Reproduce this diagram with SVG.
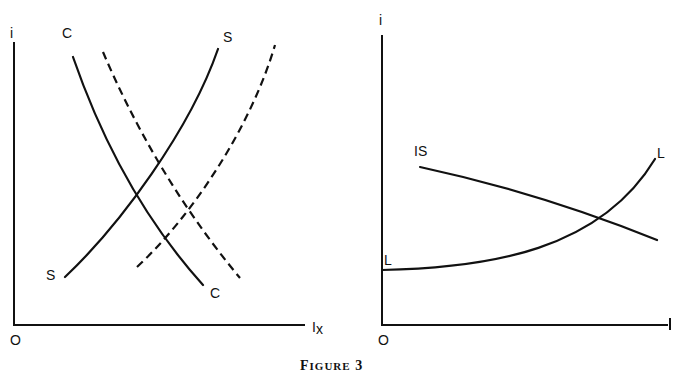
<svg xmlns="http://www.w3.org/2000/svg" width="673" height="380" viewBox="0 0 673 380">
<style>
.ax{fill:none;stroke:#111;stroke-width:2}
.cv{fill:none;stroke:#111;stroke-width:2.2;stroke-linecap:round}
.ds{stroke-dasharray:8,5;stroke-linecap:butt}
.lb{font-family:"Liberation Sans",Arial,sans-serif;font-size:14px;fill:#111}
.cap{font-family:"Liberation Serif","Times New Roman",serif;font-weight:bold;fill:#111;letter-spacing:1px}
</style>
<rect width="673" height="380" fill="#fff"/>
<g id="left-axes">
<path class="ax" d="M14,42 V325 H305"/>
<text class="lb" x="10" y="38">i</text>
<text class="lb" x="10" y="345">O</text>
<text class="lb" x="312" y="332">I<tspan dy="2">x</tspan></text>
</g>
<g id="curve-CC">
<path class="cv" d="M73,57 C100,135 140,215 203,285"/>
<text class="lb" x="62" y="38">C</text>
<text class="lb" x="210" y="298">C</text>
</g>
<g id="curve-CC-dashed">
<path class="cv ds" d="M103,52 C132,120 175,200 240,278"/>
</g>
<g id="curve-SS">
<path class="cv" d="M65,277 C120,225 190,130 218,49"/>
<text class="lb" x="223" y="42">S</text>
<text class="lb" x="46" y="280">S</text>
</g>
<g id="curve-SS-dashed">
<path class="cv ds" d="M137,267 C190,218 250,130 275,45"/>
</g>
<g id="right-axes">
<path class="ax" d="M382,35 V325 H668"/>
<text class="lb" x="379" y="25">i</text>
<text class="lb" x="378" y="345">O</text>
<line class="ax" x1="670" y1="318" x2="670" y2="330"/>
</g>
<g id="curve-IS">
<path class="cv" d="M420,167 C490,182 570,205 657,240"/>
<text class="lb" x="414" y="156">IS</text>
</g>
<g id="curve-LL">
<path class="cv" d="M382,270 C490,268 600,250 655,159"/>
<text class="lb" x="384" y="265">L</text>
<text class="lb" x="657" y="158">L</text>
</g>
<text class="cap" x="300" y="370"><tspan font-size="14">F</tspan><tspan font-size="11">IGURE</tspan><tspan font-size="14"> 3</tspan></text>
</svg>
